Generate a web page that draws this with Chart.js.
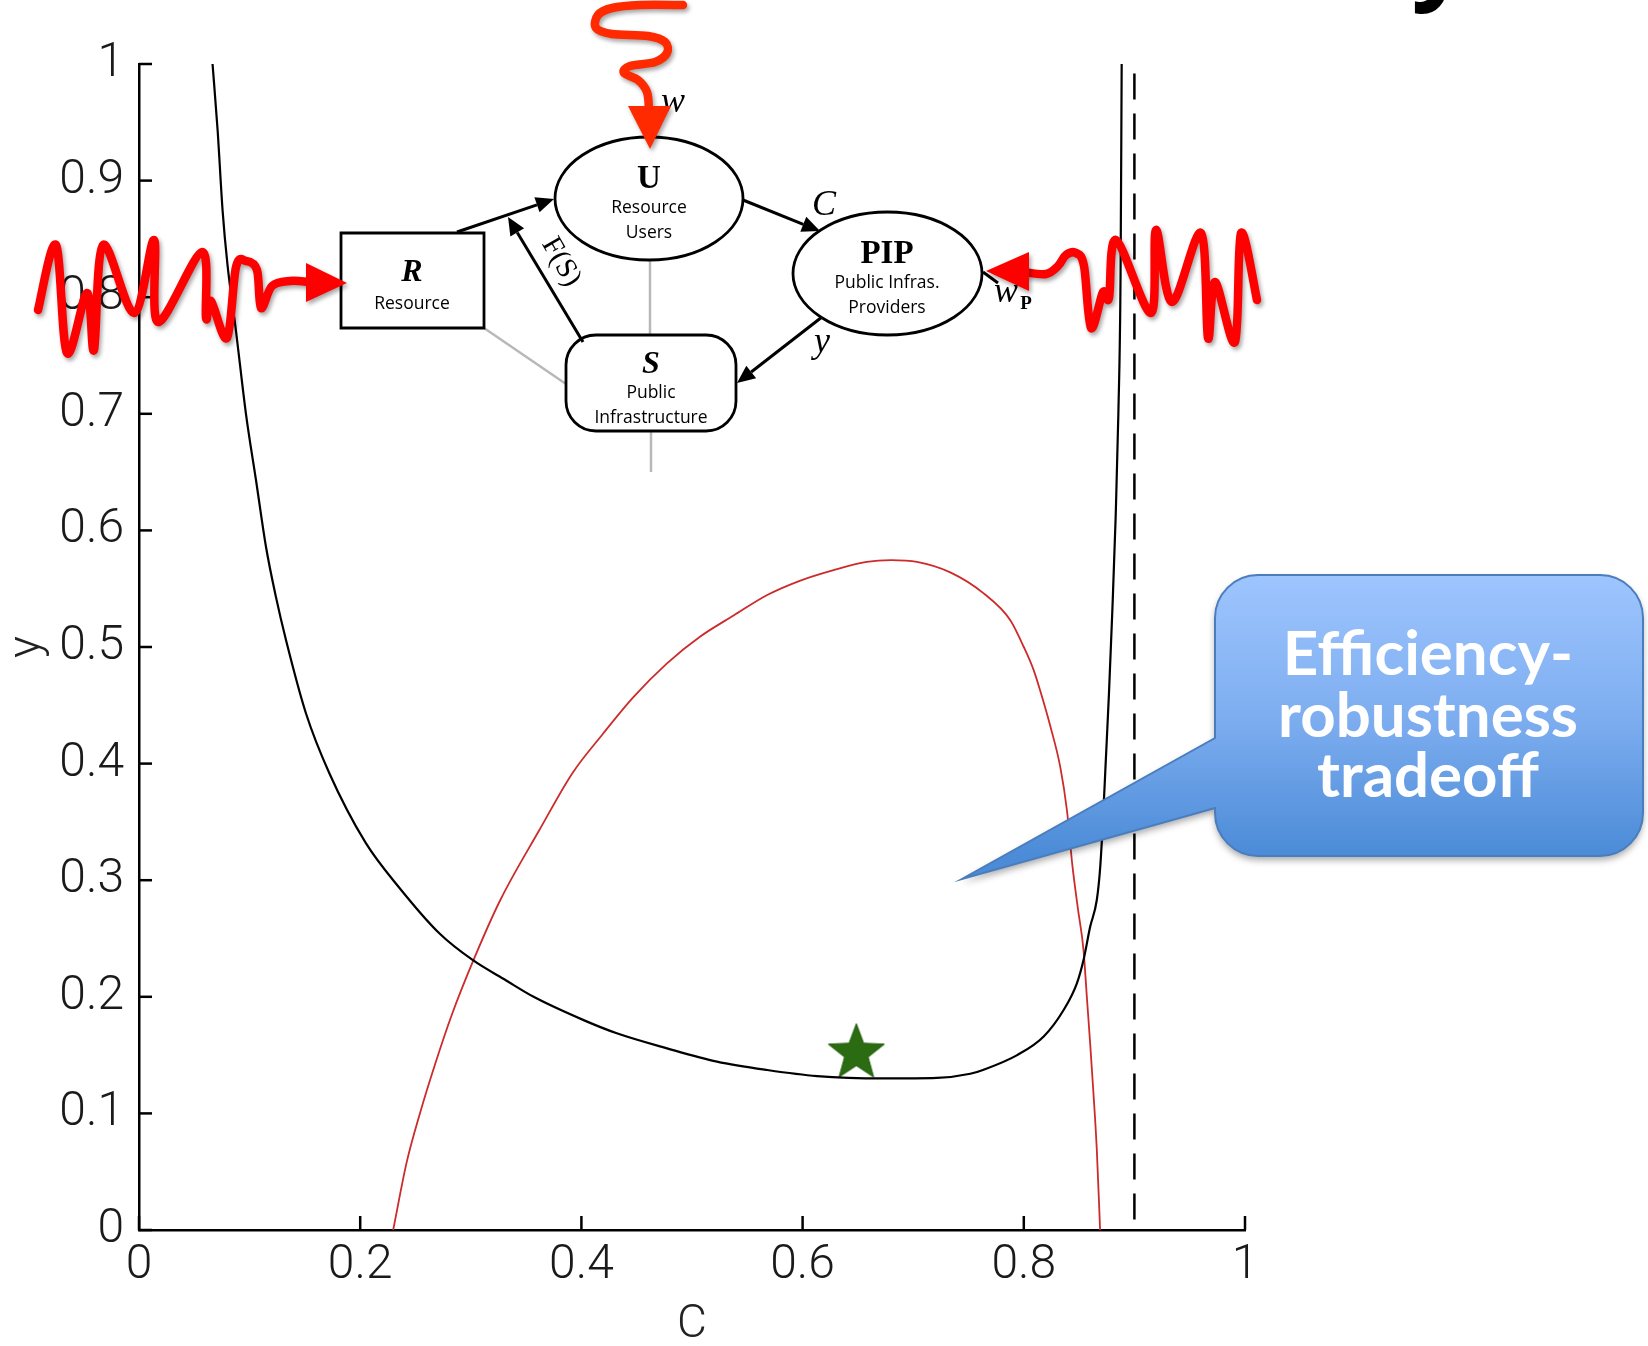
<!DOCTYPE html>
<html><head><meta charset="utf-8">
<script src="https://cdn.jsdelivr.net/npm/chart.js@4.4.1/dist/chart.umd.min.js"></script>
<style>html,body{margin:0;padding:0;background:#fff;}#wrap{width:1648px;height:1346px;position:relative;}</style>
</head><body><div id="wrap"><canvas id="c" width="1648" height="1346"></canvas></div>
<script>
// ---- data ----
const blackC = [0.0665,0.0711,0.0756,0.080,0.0877,0.0967,0.1058,0.1148,0.1238,0.1329,0.151,0.172,0.205,0.235,0.2715,0.3016,0.332,0.3568,0.402,0.432,0.4774,0.5226,0.568,0.613,0.673,0.7215,0.7516,0.7637,0.794,0.818,0.836,0.848,0.854,0.860,0.866,0.869,0.8715,0.874,0.877,0.880,0.883,0.8855,0.8875,0.8885];
const blackY = [1.0,0.943,0.874,0.828,0.771,0.700,0.643,0.586,0.543,0.506,0.443,0.392,0.332,0.294,0.2545,0.2316,0.214,0.200,0.180,0.1687,0.1558,0.1444,0.1372,0.132,0.130,0.1305,0.134,0.1375,0.150,0.166,0.1887,0.2116,0.2316,0.260,0.283,0.310,0.350,0.400,0.460,0.530,0.610,0.700,0.820,1.0];
const redC = [0.2298,0.242,0.254,0.268,0.283,0.3025,0.3267,0.362,0.392,0.419,0.447,0.4774,0.5075,0.5376,0.568,0.598,0.628,0.658,0.68,0.7034,0.7335,0.7637,0.7878,0.800,0.809,0.815,0.824,0.833,0.839,0.844,0.849,0.854,0.857,0.860,0.863,0.866,0.869];
const redY = [0.0,0.058,0.100,0.143,0.185,0.2316,0.283,0.343,0.392,0.425,0.457,0.486,0.509,0.527,0.5446,0.557,0.566,0.573,0.5745,0.573,0.564,0.546,0.523,0.500,0.480,0.462,0.432,0.397,0.360,0.312,0.275,0.240,0.200,0.160,0.117,0.069,0.0];
const starC = [0.6486];
const starY = [0.154];
const dashC = [0.9, 0.9];
const dashY = [0.009, 0.993];
const xTicks = [0, 0.2, 0.4, 0.6, 0.8, 1];
const yTicks = [0, 0.1, 0.2, 0.3, 0.4, 0.5, 0.6, 0.7, 0.8, 0.9, 1];
const xTitle = 'C';
const yTitle = 'y';
const calloutLines = ['Efficiency-', 'robustness', 'tradeoff'];

const pts = (xs, ys) => xs.map((x, i) => ({x: x, y: ys[i]}));
const TICKFONT = "Roboto, 'Liberation Sans', sans-serif";

function makeStar(color) {
  const R = 29.5, r = R * 0.42;
  const W = 60, H = 56;
  const cv = document.createElement('canvas'); cv.width = W; cv.height = H;
  const g = cv.getContext('2d');
  const bh = R * (1 + Math.cos(Math.PI / 5));
  const cx = W / 2, cy = (H - bh) / 2 + R;
  g.beginPath();
  for (let i = 0; i < 10; i++) {
    const a = -Math.PI / 2 + i * Math.PI / 5;
    const rr = i % 2 ? r : R;
    g.lineTo(cx + rr * Math.cos(a), cy + rr * Math.sin(a));
  }
  g.closePath();
  g.fillStyle = color; g.fill();
  g.strokeStyle = '#1f5a0a'; g.lineWidth = 1; g.stroke();
  return cv;
}

function arrow(ctx, x1, y1, x2, y2, hl, hw) {
  const a = Math.atan2(y2 - y1, x2 - x1);
  const bx = x2 - hl * Math.cos(a), by = y2 - hl * Math.sin(a);
  ctx.beginPath(); ctx.moveTo(x1, y1); ctx.lineTo(bx, by); ctx.stroke();
  ctx.beginPath();
  ctx.moveTo(x2, y2);
  ctx.lineTo(bx + hw * Math.sin(a), by - hw * Math.cos(a));
  ctx.lineTo(bx - hw * Math.sin(a), by + hw * Math.cos(a));
  ctx.closePath(); ctx.fill();
}

function poly(ctx, p) {
  ctx.beginPath(); ctx.moveTo(p[0][0], p[0][1]);
  for (let i = 1; i < p.length; i++) ctx.lineTo(p[i][0], p[i][1]);
  ctx.stroke();
}
function smooth(ctx, p) {
  ctx.beginPath(); ctx.moveTo(p[0][0], p[0][1]);
  for (let i = 0; i < p.length - 1; i++) {
    const p0 = p[i - 1] || p[i], p1 = p[i], p2 = p[i + 1], p3 = p[i + 2] || p[i + 1];
    ctx.bezierCurveTo(p1[0] + (p2[0] - p0[0]) / 6, p1[1] + (p2[1] - p0[1]) / 6,
                      p2[0] - (p3[0] - p1[0]) / 6, p2[1] - (p3[1] - p1[1]) / 6, p2[0], p2[1]);
  }
  ctx.stroke();
}
function tri(ctx, p) {
  ctx.beginPath(); ctx.moveTo(p[0][0], p[0][1]);
  ctx.lineTo(p[1][0], p[1][1]); ctx.lineTo(p[2][0], p[2][1]); ctx.closePath(); ctx.fill();
}
function rrect(ctx, x0, y0, x1, y1, r) {
  ctx.beginPath();
  ctx.moveTo(x0 + r, y0); ctx.lineTo(x1 - r, y0); ctx.arcTo(x1, y0, x1, y0 + r, r);
  ctx.lineTo(x1, y1 - r); ctx.arcTo(x1, y1, x1 - r, y1, r);
  ctx.lineTo(x0 + r, y1); ctx.arcTo(x0, y1, x0, y1 - r, r);
  ctx.lineTo(x0, y0 + r); ctx.arcTo(x0, y0, x0 + r, y0, r); ctx.closePath();
}

function drawDiagram(ctx) {
  ctx.save();
  // grey connectors
  ctx.strokeStyle = '#b8b8b8'; ctx.lineWidth = 2.5;
  poly(ctx, [[650, 258], [650, 337]]);
  poly(ctx, [[651, 429], [651, 472]]);
  poly(ctx, [[484, 328], [566, 384]]);
  // shapes
  ctx.strokeStyle = '#000'; ctx.fillStyle = '#fff'; ctx.lineWidth = 2.8;
  ctx.beginPath(); ctx.rect(341, 233, 143, 95); ctx.fill(); ctx.stroke();
  ctx.beginPath(); ctx.ellipse(649, 198.5, 94, 61.5, 0, 0, Math.PI * 2); ctx.fill(); ctx.stroke();
  ctx.beginPath(); ctx.ellipse(887.5, 273.5, 94.5, 61.5, 0, 0, Math.PI * 2); ctx.fill(); ctx.stroke();
  rrect(ctx, 566, 335, 736, 431, 30); ctx.fill(); ctx.stroke();
  // black arrows
  ctx.fillStyle = '#000'; ctx.lineWidth = 3;
  arrow(ctx, 457, 232, 554, 199, 18, 8);
  arrow(ctx, 583, 342, 508, 217, 18, 8);
  arrow(ctx, 743, 200, 820, 231, 18, 8);
  arrow(ctx, 822, 317, 737, 383, 18, 8);
  poly(ctx, [[983, 272], [998, 283]]);
  // node labels
  ctx.textAlign = 'center'; ctx.textBaseline = 'alphabetic'; ctx.fillStyle = '#000';
  ctx.font = "italic bold 32px 'Liberation Serif', 'DejaVu Serif', serif";
  ctx.fillText('R', 412, 281);
  ctx.fillText('S', 651, 373);
  ctx.font = "bold 33px 'Liberation Serif', 'DejaVu Serif', serif";
  ctx.fillText('U', 649, 188);
  ctx.fillText('PIP', 887, 263);
  ctx.font = "17.5px 'Open Sans', 'Liberation Sans', sans-serif";
  ctx.fillText('Resource', 412, 309);
  ctx.fillText('Resource', 649, 213);
  ctx.fillText('Users', 649, 238);
  ctx.fillText('Public Infras.', 887, 288);
  ctx.fillText('Providers', 887, 313);
  ctx.fillText('Public', 651, 398);
  ctx.fillText('Infrastructure', 651, 423);
  // edge labels
  ctx.font = "italic 36px 'Liberation Serif', 'DejaVu Serif', serif";
  ctx.fillText('w', 673, 112);
  ctx.fillText('C', 824, 215);
  ctx.fillText('y', 822, 352);
  ctx.fillText('w', 1006, 302);
  ctx.font = "bold 19px 'Liberation Serif', 'DejaVu Serif', serif";
  ctx.fillText('P', 1026, 309);
  ctx.save();
  ctx.translate(561, 262); ctx.rotate(60 * Math.PI / 180);
  ctx.font = "29px 'Liberation Serif', 'DejaVu Serif', serif";
  ctx.textBaseline = 'middle';
  ctx.fillText('F(S)', 0, 0);
  ctx.restore();

  // red perturbation squiggles
  ctx.save();
  ctx.shadowColor = 'rgba(0,0,0,0.35)'; ctx.shadowBlur = 4; ctx.shadowOffsetX = 2; ctx.shadowOffsetY = 3;
  ctx.lineWidth = 8.5; ctx.lineJoin = 'round'; ctx.lineCap = 'round';
  ctx.strokeStyle = '#ff2a00'; ctx.fillStyle = '#ff2a00';
  smooth(ctx, [[683, 5], [640, 5], [612, 8], [598, 15], [596, 28], [612, 34], [648, 36], [665, 42], [667, 53], [655, 62], [630, 66], [624, 73], [638, 80], [647, 92], [649, 110]]);
  tri(ctx, [[628, 106], [671, 106], [650, 149]]);
  ctx.strokeStyle = '#ff0000'; ctx.fillStyle = '#ff0000';
  smooth(ctx, [[38, 310], [56, 245], [67, 353], [87, 293], [94, 350], [103, 245], [134, 313], [154, 240], [158, 322], [202, 252], [206, 318], [211, 301], [227, 338], [236, 267], [246, 261], [257, 270], [261, 308], [272, 286], [290, 281], [310, 282]]);
  tri(ctx, [[306, 263], [306, 302], [347, 283]]);
  smooth(ctx, [[1024, 272], [1046, 274], [1058, 266], [1066, 255], [1076, 253], [1084, 266], [1091, 328], [1103, 292], [1109, 298], [1116, 240], [1151, 313], [1156, 230], [1172, 302], [1201, 233], [1208, 338], [1215, 282], [1235, 342], [1241, 233], [1257, 300]]);
  tri(ctx, [[1029, 252], [1029, 291], [986, 271]]);
  ctx.restore();

  // callout
  const x0 = 1215, y0 = 575, x1 = 1643, y1 = 856, r = 43;
  ctx.save();
  ctx.beginPath();
  ctx.moveTo(x0 + r, y0); ctx.lineTo(x1 - r, y0); ctx.arcTo(x1, y0, x1, y0 + r, r);
  ctx.lineTo(x1, y1 - r); ctx.arcTo(x1, y1, x1 - r, y1, r);
  ctx.lineTo(x0 + r, y1); ctx.arcTo(x0, y1, x0, y1 - r, r);
  ctx.lineTo(x0, 808); ctx.lineTo(962, 879); ctx.lineTo(x0, 738);
  ctx.lineTo(x0, y0 + r); ctx.arcTo(x0, y0, x0 + r, y0, r); ctx.closePath();
  const grd = ctx.createLinearGradient(0, y0, 0, y1);
  grd.addColorStop(0, '#9ec5fe'); grd.addColorStop(0.5, '#7eaef0'); grd.addColorStop(1, '#4b8bd7');
  ctx.fillStyle = grd;
  ctx.shadowColor = 'rgba(0,0,0,0.35)'; ctx.shadowBlur = 7; ctx.shadowOffsetY = 4;
  ctx.fill();
  ctx.shadowColor = 'transparent';
  ctx.strokeStyle = '#4a7dbd'; ctx.lineWidth = 2; ctx.stroke();
  ctx.fillStyle = '#fff'; ctx.textAlign = 'center'; ctx.textBaseline = 'alphabetic';
  let fs = 56;
  ctx.font = "bold " + fs + "px Lato, 'Open Sans', sans-serif";
  const w = ctx.measureText(calloutLines[1]).width;
  fs = fs * 300 / w;
  ctx.font = "bold " + fs.toFixed(1) + "px Lato, 'Open Sans', sans-serif";
  ctx.fillText(calloutLines[0], 1428, 675);
  ctx.fillText(calloutLines[1], 1428, 737);
  ctx.fillText(calloutLines[2], 1428, 797);
  ctx.restore();

  // fragment of the slide title above the frame
  ctx.save();
  ctx.fillStyle = '#000'; ctx.textAlign = 'center';
  ctx.font = "bold 100px 'Open Sans', sans-serif";
  ctx.fillText('y', 1440, -10);
  ctx.restore();
  ctx.restore();
}

const overlay = {
  id: 'overlay',
  afterDraw(chart) {
    const ctx = chart.ctx;
    const xs = chart.scales.x, ys = chart.scales.y;
    ctx.save();
    ctx.strokeStyle = '#000'; ctx.lineWidth = 2.5;
    xTicks.forEach(v => {
      const px = xs.getPixelForValue(v);
      ctx.beginPath(); ctx.moveTo(px, ys.bottom); ctx.lineTo(px, ys.bottom - 14); ctx.stroke();
    });
    yTicks.forEach(v => {
      const py = ys.getPixelForValue(v);
      ctx.beginPath(); ctx.moveTo(xs.left, py); ctx.lineTo(xs.left + 13, py); ctx.stroke();
    });
    ctx.restore();
    drawDiagram(ctx);
  }
};

function build() {
  const starImg = makeStar('#2b6c12');
  new Chart(document.getElementById('c'), {
    type: 'scatter',
    data: {
      datasets: [
        {label: 'black', data: pts(blackC, blackY), showLine: true, borderColor: '#000', borderWidth: 2.2, pointRadius: 0, cubicInterpolationMode: 'monotone', fill: false},
        {label: 'red', data: pts(redC, redY), showLine: true, borderColor: '#cc2b2b', borderWidth: 1.8, pointRadius: 0, cubicInterpolationMode: 'monotone', fill: false},
        {label: 'dash', data: pts(dashC, dashY), showLine: true, borderColor: '#000', borderWidth: 2.5, borderDash: [26, 14], pointRadius: 0, fill: false},
        {label: 'star', data: pts(starC, starY), showLine: false, pointStyle: starImg, pointRadius: 28, backgroundColor: '#2b6c12', borderColor: '#2b6c12'}
      ]
    },
    options: {
      responsive: false, animation: false, devicePixelRatio: 1,
      layout: {padding: {left: 0, right: 403, top: 64, bottom: 0}},
      plugins: {legend: {display: false}, tooltip: {enabled: false}},
      events: [],
      scales: {
        x: {
          type: 'linear', min: 0, max: 1,
          afterFit(s) { s.height = 116; },
          afterBuildTicks(s) { s.ticks = xTicks.map(v => ({value: v})); },
          grid: {display: true, drawOnChartArea: false, drawTicks: false, color: 'rgba(0,0,0,0)'},
          border: {display: true, color: '#000', width: 2.5},
          ticks: {padding: 7, color: '#1a1a1a', font: {family: TICKFONT, size: 48, weight: '300'}, maxRotation: 0, autoSkip: false, callback: v => String(v)},
          title: {display: true, text: xTitle, color: '#222', font: {family: TICKFONT, size: 46, weight: '300', lineHeight: 0.85}, padding: {top: 0, bottom: 1}}
        },
        y: {
          type: 'linear', min: 0, max: 1,
          afterFit(s) { s.width = 139; },
          afterBuildTicks(s) { s.ticks = yTicks.map(v => ({value: v})); },
          grid: {display: true, drawOnChartArea: false, drawTicks: false, color: 'rgba(0,0,0,0)'},
          border: {display: true, color: '#000', width: 2.5},
          ticks: {padding: 15, color: '#1a1a1a', font: {family: TICKFONT, size: 48, weight: '300'}, autoSkip: false, callback: v => String(v)},
          title: {display: true, text: yTitle, color: '#222', font: {family: TICKFONT, size: 46, weight: '300', lineHeight: 1}, padding: {top: 5, bottom: 0}}
        }
      }
    },
    plugins: [overlay]
  });
}
Promise.all([
  document.fonts.load("300 48px Roboto"),
  document.fonts.load("bold 50px Lato"),
  document.fonts.load("17px 'Open Sans'"),
  document.fonts.load("bold 30px 'Liberation Serif'"),
  document.fonts.load("italic bold 30px 'Liberation Serif'"),
  document.fonts.load("italic 30px 'Liberation Serif'")
]).catch(() => {}).then(build);
</script>
</body></html>
